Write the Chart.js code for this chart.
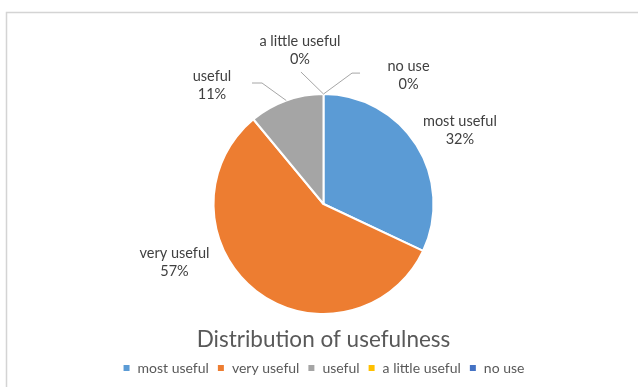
<!DOCTYPE html>
<html>
<head>
<meta charset="utf-8">
<script src="https://cdn.jsdelivr.net/npm/chart.js@4"></script>
<style>
  html, body { margin: 0; padding: 0; background: #fff; }
  canvas { display: block; }
</style>
</head>
<body>
<canvas id="canvas"></canvas>
<script>
// data
let labels = ['most useful', 'very useful', 'useful', 'a little useful', 'no use'];
let values = [32, 57, 11, 0, 0];
let colors = ['#5B9BD5', '#ED7D31', '#A5A5A5', '#FFC000', '#4472C4'];
let title = 'Distribution of usefulness';

// where each data label sits, in units of the pie radius from the centre
let labelPos = [[1.24, -0.668], [-1.355, 0.527], [-1.014, -1.082], [-0.214, -1.4], [0.773, -1.173]];
// leader lines: elbow and end point (radius units), null = no line
let leaders = [null, null,
  [[-0.559, -1.1], [-0.65, -1.1]],
  [[-0.205, -1.2], [-0.205, -1.2]],
  [[0.259, -1.19], [0.332, -1.19]]];

let width = 638;
let height = 387;

// white page with the light frame of the original chart box
const framePlugin = {
  id: 'frame',
  beforeDraw(chart) {
    const ctx = chart.ctx;
    ctx.save();
    ctx.fillStyle = '#fff';
    ctx.fillRect(0, 0, chart.width, chart.height);
    ctx.strokeStyle = '#d4d4d4';
    ctx.lineWidth = 1.5;
    ctx.strokeRect(6.5, 12.5, chart.width + 20, chart.height + 20);
    ctx.restore();
  }
};

// Excel-style outside labels with leader lines
const labelPlugin = {
  id: 'pieLabels',
  afterDatasetsDraw(chart) {
    const ctx = chart.ctx;
    const meta = chart.getDatasetMeta(0);
    const total = values.reduce((a, b) => a + b, 0);
    ctx.save();
    meta.data.forEach((arc, i) => {
      const p = arc.getProps(['x', 'y', 'startAngle', 'endAngle', 'outerRadius'], true);
      const r = p.outerRadius;
      const mid = (p.startAngle + p.endAngle) / 2;
      if (leaders[i]) {
        ctx.strokeStyle = '#A6A6A6';
        ctx.lineWidth = 1;
        ctx.beginPath();
        ctx.moveTo(p.x + Math.cos(mid) * r, p.y + Math.sin(mid) * r);
        leaders[i].forEach(pt => ctx.lineTo(p.x + pt[0] * r, p.y + pt[1] * r));
        ctx.stroke();
      }
      const lx = p.x + labelPos[i][0] * r;
      const ly = p.y + labelPos[i][1] * r;
      ctx.fillStyle = '#404040';
      ctx.font = '14.5px Lato';
      ctx.textAlign = 'center';
      ctx.textBaseline = 'middle';
      ctx.fillText(labels[i], lx, ly - 9);
      ctx.fillText(Math.round(values[i] / total * 100) + '%', lx, ly + 9);
    });
    ctx.restore();
  }
};

let options = {
  type: 'pie',
  data: {
    labels: labels,
    datasets: [{
      data: values,
      backgroundColor: colors,
      borderColor: '#fff',
      borderWidth: 2,
      radius: 110
    }]
  },
  options: {
    animation: false,
    responsive: false,
    layout: { padding: { top: 82, left: 9, right: 0, bottom: 2 } },
    plugins: {
      title: {
        display: true,
        position: 'bottom',
        weight: 100,
        text: title,
        color: '#595959',
        font: { family: 'Lato', size: 22.5, weight: 'normal' },
        padding: 0
      },
      legend: {
        position: 'bottom',
        weight: 1000,
        labels: {
          color: '#595959',
          font: { family: 'Lato', size: 14 },
          boxWidth: 8,
          boxHeight: 8,
          padding: 8
        }
      },
      tooltip: { enabled: false }
    }
  },
  plugins: [framePlugin, labelPlugin]
};

let context = document.getElementById('canvas');
context.width = width;
context.height = height;

let chart = new Chart(context, options);
</script>
</body>
</html>
